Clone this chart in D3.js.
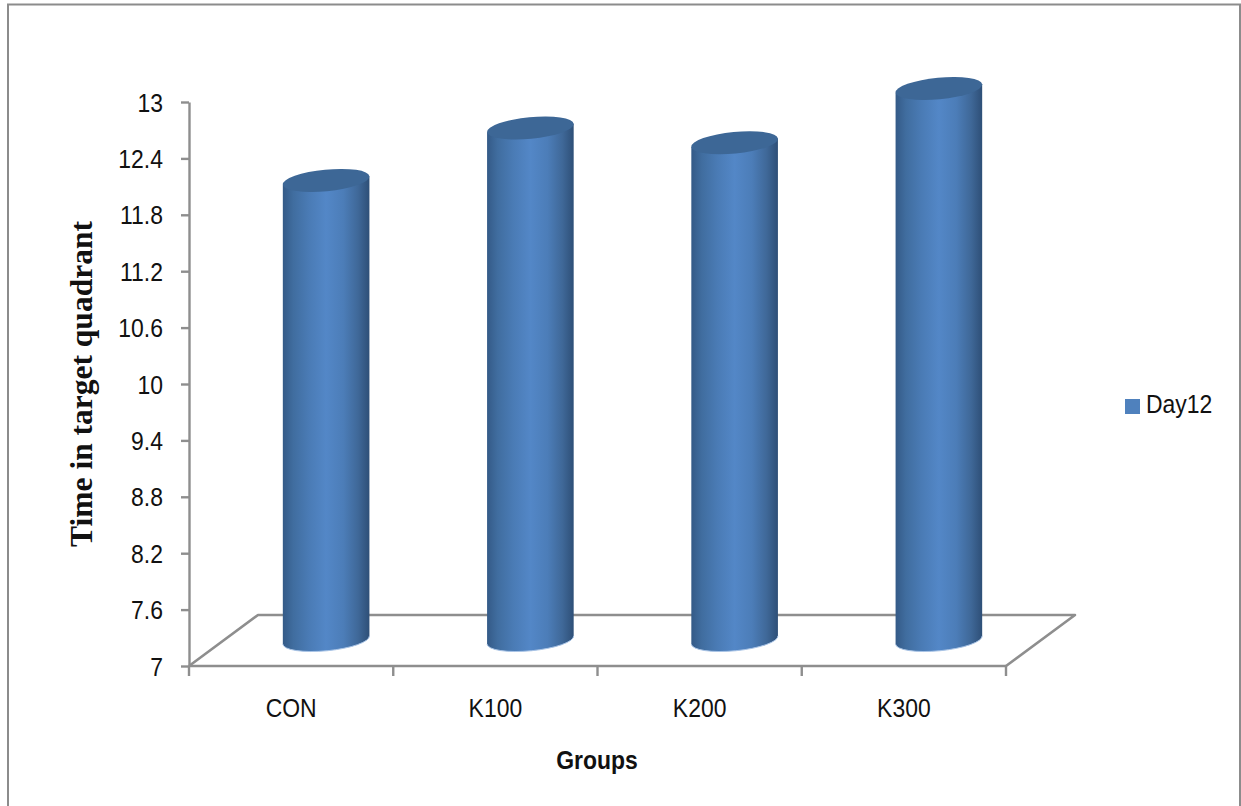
<!DOCTYPE html>
<html>
<head>
<meta charset="utf-8">
<script src="https://cdn.jsdelivr.net/npm/d3@7"></script>
<style>
html,body{margin:0;padding:0;background:#fff;overflow:hidden}
svg{display:block}
text{fill:#111}
.tick-label{font-family:"Liberation Sans",sans-serif;font-size:25.5px}
</style>
</head>
<body>
<svg id="chart" width="1241" height="806"></svg>
<script>
// Chart data
const groups = ["CON", "K100", "K200", "K300"];
const day12 = [12, 12.57, 12.41, 13];
const yTicks = [7, 7.6, 8.2, 8.8, 9.4, 10, 10.6, 11.2, 11.8, 12.4, 13];
const yTickLabels = ["7", "7.6", "8.2", "8.8", "9.4", "10", "10.6", "11.2", "11.8", "12.4", "13"];
const seriesName = "Day12";
const yTitle = "Time in target quadrant";
const xTitle = "Groups";

const svg = d3.select("#chart");
const axisGrey = "#8e8e8e";
const narrow = 0.9;   // horizontal squeeze for the condensed label look

// Outer chart frame
svg.append("path")
  .attr("d", "M8,806V4.5H1240V806")
  .attr("fill", "none").attr("stroke", "#8c8c8c").attr("stroke-width", 2);

// Front-plane scales for the axes
const x = d3.scaleBand().domain(groups).range([189, 1006]).padding(0);
const y = d3.scaleLinear().domain([7, 13]).range([666, 102]);
// Cylinders stand in the middle of the floor, so they use a scale set back in depth
const yBar = d3.scaleLinear().domain([7, 13]).range([640, 88.5]);
const depthX = 35;
const rx = 43.5, ry = 10.8, tilt = -5.5;

// Floor outline
const floorDepth = { dx: 69, dy: 51 };
const floor = d3.path();
floor.moveTo(x.range()[0], y(7));
floor.lineTo(x.range()[0] + floorDepth.dx, y(7) - floorDepth.dy);
floor.lineTo(x.range()[1] + floorDepth.dx, y(7) - floorDepth.dy);
floor.lineTo(x.range()[1], y(7));
svg.append("path").attr("d", floor.toString())
  .attr("fill", "none").attr("stroke", axisGrey).attr("stroke-width", 2.6)
  .attr("stroke-linejoin", "round");

// Value axis
const yAxis = d3.axisLeft(y).tickValues(yTicks)
  .tickFormat((d, i) => yTickLabels[i]).tickSize(8).tickPadding(0).tickSizeOuter(0);
const gy = svg.append("g").attr("transform", "translate(189,0)").call(yAxis);
gy.selectAll("path,line").attr("stroke", axisGrey).attr("stroke-width", 2.4);
gy.selectAll("text").attr("class", "tick-label")
  .attr("x", 0).attr("dy", null).attr("y", 9)
  .attr("transform", `translate(-26,0) scale(${narrow},1)`);

// Category axis, ticks on band boundaries
const gx = svg.append("g").attr("transform", `translate(0,${y(7)})`);
gx.append("line").attr("x1", x.range()[0]).attr("x2", x.range()[1])
  .attr("stroke", axisGrey).attr("stroke-width", 2.6);
const boundaries = groups.map(g => x(g)).concat(x.range()[1]);
gx.selectAll(".bound").data(boundaries).join("line").attr("class", "bound")
  .attr("x1", d => d).attr("x2", d => d).attr("y1", 0).attr("y2", 10)
  .attr("stroke", axisGrey).attr("stroke-width", 2.4);
gx.selectAll(".cat").data(groups).join("text").attr("class", "cat tick-label")
  .attr("text-anchor", "middle")
  .attr("transform", d => `translate(${x(d) + x.bandwidth() / 2},51) scale(${narrow},1)`)
  .text(d => d);

// Cylinder shading
const defs = svg.append("defs");
const grad = defs.append("linearGradient").attr("id", "body").attr("x1", 0).attr("x2", 1).attr("y1", 0).attr("y2", 0);
[[0, "#345a87"], [0.12, "#406d9f"], [0.3, "#4a7bb5"], [0.5, "#5387c7"], [0.7, "#4c7db8"], [0.87, "#3f6898"], [1, "#2e4f77"]]
  .forEach(([o, c]) => grad.append("stop").attr("offset", o).attr("stop-color", c));

const tiltRad = tilt * Math.PI / 180;
const edge = (cx, cy, side) => [cx + side * rx * Math.cos(tiltRad), cy + side * rx * Math.sin(tiltRad)];

const bars = svg.selectAll(".bar").data(groups.map((g, i) => ({ g, v: day12[i] }))).join("g").attr("class", "bar");
const cxOf = d => x(d.g) + x.bandwidth() / 2 + depthX;
bars.append("path")
  .attr("d", d => {
    const cx = cxOf(d);
    const t = yBar(d.v), b = yBar(7);
    const [lx, lty] = edge(cx, t, -1), [rxx, rty] = edge(cx, t, 1);
    const [, lby] = edge(cx, b, -1), [, rby] = edge(cx, b, 1);
    return `M${lx},${lty}L${rxx},${rty}L${rxx},${rby}A${rx},${ry} ${tilt} 0 1 ${lx},${lby}Z`;
  })
  .attr("fill", "url(#body)");
// Pale rim along the underside of each cylinder
bars.append("path")
  .attr("d", d => {
    const cx = cxOf(d), b = yBar(7);
    const [lx, lby] = edge(cx, b, -1), [rxx, rby] = edge(cx, b, 1);
    return `M${rxx},${rby}A${rx},${ry} ${tilt} 0 1 ${lx},${lby}`;
  })
  .attr("fill", "none").attr("stroke", "#a9c4e6").attr("stroke-width", 1);
bars.append("ellipse")
  .attr("rx", rx).attr("ry", ry).attr("fill", "#3d6796")
  .attr("transform", d => `translate(${cxOf(d)},${yBar(d.v)}) rotate(${tilt})`);

// Legend
const legend = svg.append("g");
legend.append("rect").attr("x", 1125).attr("y", 399).attr("width", 15).attr("height", 15).attr("fill", "#4f81bd");
legend.append("text").attr("class", "tick-label")
  .attr("transform", `translate(1146,413) scale(${narrow},1)`).text(seriesName);

// Axis titles
svg.append("text").attr("transform", "translate(92,384) rotate(-90)")
  .attr("text-anchor", "middle")
  .style("font-family", '"Liberation Serif",serif').style("font-weight", "bold").style("font-size", "31.5px")
  .text(yTitle);
svg.append("text").attr("transform", `translate(597,769) scale(${narrow},1)`).attr("text-anchor", "middle")
  .style("font-family", '"Liberation Sans",sans-serif').style("font-weight", "bold").style("font-size", "25.5px")
  .text(xTitle);
</script>
</body>
</html>
